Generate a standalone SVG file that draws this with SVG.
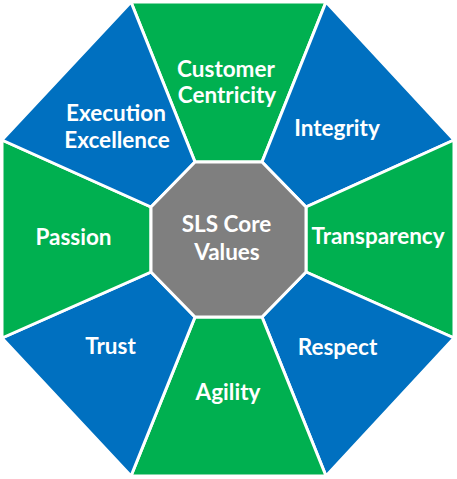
<svg xmlns="http://www.w3.org/2000/svg" width="457" height="479" viewBox="0 0 457 479">
<style>
.seg{stroke:#fff;stroke-width:3;stroke-linejoin:miter}
.g{fill:#00B050}
.b{fill:#0070C0}
.c{fill:#7F7F7F}
text{font-family:Lato,"Open Sans","Liberation Sans",sans-serif;font-weight:bold;font-size:22.5px;fill:#fff;text-anchor:middle}
</style>
<rect width="457" height="479" fill="#fff"/>
<g id="customer-centricity"><polygon class="seg g" points="131,2 326,2 262,162 195,162"/><text x="226" y="77">Customer</text><text x="227" y="103">Centricity</text></g>
<g id="integrity"><polygon class="seg b" points="326,2 454,140 306,207 262,162"/><text x="337" y="136">Integrity</text></g>
<g id="transparency"><polygon class="seg g" points="454,140 454,338 306,272 306,207"/><text x="378" y="244">Transparency</text></g>
<g id="respect"><polygon class="seg b" points="454,338 326,476 262,317 306,272"/><text x="337.5" y="355">Respect</text></g>
<g id="agility"><polygon class="seg g" points="326,476 131,476 195,317 262,317"/><text x="228" y="400">Agility</text></g>
<g id="trust"><polygon class="seg b" points="131,476 2,338 151,272 195,317"/><text x="110.5" y="354">Trust</text></g>
<g id="passion"><polygon class="seg g" points="2,338 2,140 151,207 151,272"/><text x="73.5" y="245">Passion</text></g>
<g id="execution-excellence"><polygon class="seg b" points="2,140 131,2 195,162 151,207"/><text x="116" y="121">Execution</text><text x="117" y="148">Excellence</text></g>
<g id="core"><polygon class="seg c" points="195,162 262,162 306,207 306,272 262,317 195,317 151,272 151,207"/><text x="226.5" y="232">SLS Core</text><text x="227" y="260">Values</text></g>
<g id="connectors"/>
</svg>
